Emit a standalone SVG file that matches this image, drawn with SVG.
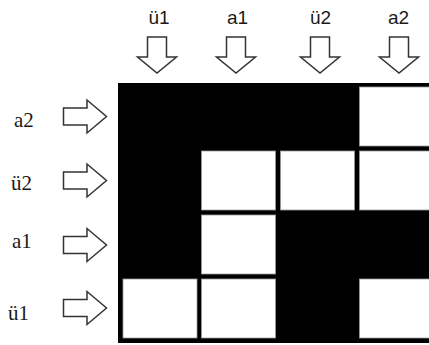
<svg xmlns="http://www.w3.org/2000/svg" width="429" height="345" viewBox="0 0 429 345">
<style>
.top{font-family:"Liberation Sans",Arial,sans-serif;font-size:19px;fill:#1a1a1a;text-anchor:middle}
.side{font-family:"Liberation Serif","Times New Roman",serif;font-size:21px;fill:#1a1a1a}
.cell{fill:#fff;stroke:#999;stroke-width:0.8}
.arr{fill:#fff;stroke:#333;stroke-width:1.5;stroke-linejoin:miter}
</style>
<defs>
<path id="down" d="M-9.5,0 H9.5 V20 H19.5 L0,36 L-19.5,20 H-9.5 Z"/>
<path id="right" d="M0,-8.5 H23.5 V-16.5 L43,0 L23.5,16.5 V8.5 H0 Z"/>
</defs>
<rect width="429" height="345" fill="#fff"/>
<g id="grid">
<rect x="118" y="83" width="320" height="260" fill="#000"/>
<rect class="cell" x="359.5" y="87" width="80" height="59"/>
<rect class="cell" x="201.5" y="151" width="74" height="59"/>
<rect class="cell" x="280.5" y="151" width="74" height="59"/>
<rect class="cell" x="359.5" y="151" width="80" height="59"/>
<rect class="cell" x="201.5" y="215" width="74" height="59"/>
<rect class="cell" x="123" y="279" width="74" height="59"/>
<rect class="cell" x="201.5" y="279" width="74" height="59"/>
<rect class="cell" x="359.5" y="279" width="80" height="59"/>
</g>
<g id="col-u1"><text class="top" x="159" y="24">ü1</text></g>
<g id="col-a1"><text class="top" x="237.5" y="24">a1</text></g>
<g id="col-u2"><text class="top" x="320.5" y="24">ü2</text></g>
<g id="col-a2"><text class="top" x="398.5" y="24">a2</text></g>
<g id="row-a2"><text class="side" x="14" y="127">a2</text></g>
<g id="row-u2"><text class="side" x="11" y="190">ü2</text></g>
<g id="row-a1"><text class="side" x="12" y="248">a1</text></g>
<g id="row-u1"><text class="side" x="8" y="320">ü1</text></g>
<g id="connectors">
<use href="#down" class="arr" transform="translate(157,37)"/>
<use href="#down" class="arr" transform="translate(236,37)"/>
<use href="#down" class="arr" transform="translate(320,37)"/>
<use href="#down" class="arr" transform="translate(399,37)"/>
<use href="#right" class="arr" transform="translate(63.5,116.5)"/>
<use href="#right" class="arr" transform="translate(63.5,180.5)"/>
<use href="#right" class="arr" transform="translate(63.5,245)"/>
<use href="#right" class="arr" transform="translate(63.5,308)"/>
</g>
</svg>
